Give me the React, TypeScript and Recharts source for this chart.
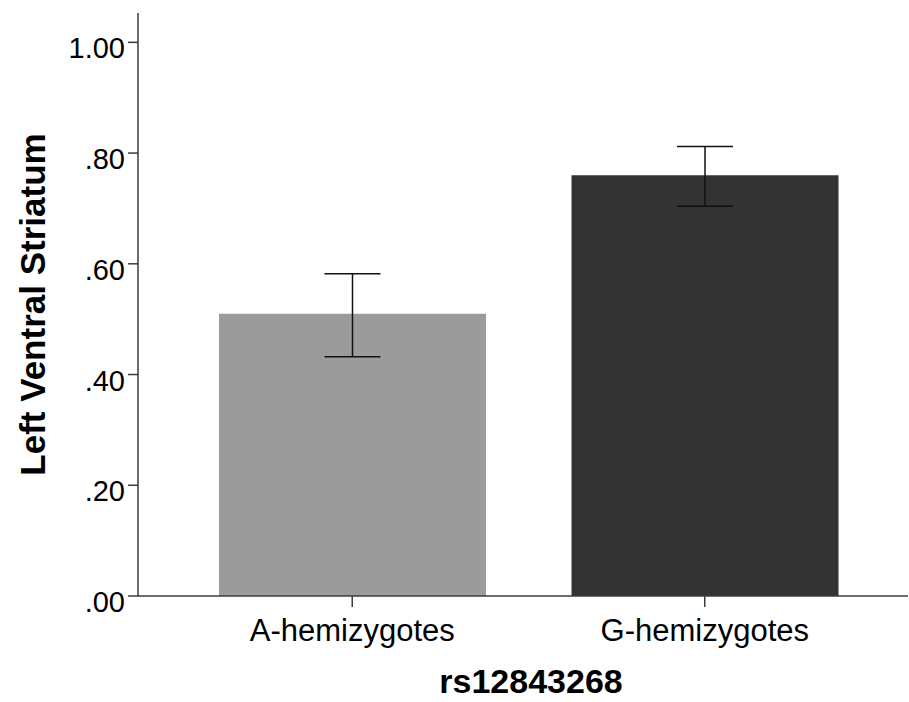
import { BarChart, Bar, XAxis, YAxis, ErrorBar, Cell, Label } from 'recharts'

const categories = ['A-hemizygotes', 'G-hemizygotes']
const means = [0.51, 0.76]
const errLow = [0.078, 0.056]
const errHigh = [0.072, 0.052]
const barColors = ['#9b9b9b', '#333333']
const yTicks = [0, 0.2, 0.4, 0.6, 0.8, 1.0]

const data = categories.map((c, i) => ({
  name: c,
  value: means[i],
  err: [errLow[i], errHigh[i]],
}))

const FONT = 'Arial, "Liberation Sans", sans-serif'

function fmt(v: number) {
  return v >= 1 ? v.toFixed(2) : v.toFixed(2).replace(/^0/, '')
}

function YTick({ x, y, payload }: any) {
  return (
    <text x={x - 1} y={y + 16} textAnchor="end" fontSize={29} fontFamily={FONT} fill="#000">
      {fmt(payload.value)}
    </text>
  )
}

function XTick({ x, payload }: any) {
  return (
    <text x={x} y={596 + 45} textAnchor="middle" fontSize={31} fontFamily={FONT} fill="#000">
      {payload.value}
    </text>
  )
}

function XTitle({ viewBox }: any) {
  return (
    <text
      x={viewBox.x + viewBox.width / 2 + 8}
      y={693}
      textAnchor="middle"
      fontSize={34}
      fontWeight="bold"
      fontFamily={FONT}
      fill="#000"
    >
      rs12843268
    </text>
  )
}

function YTitle({ viewBox }: any) {
  const cx = 45
  const cy = viewBox.y + viewBox.height / 2
  return (
    <text
      x={cx}
      y={cy}
      transform={`rotate(-90, ${cx}, ${cy})`}
      textAnchor="middle"
      fontSize={35}
      fontWeight="bold"
      fontFamily={FONT}
      fill="#000"
    >
      Left Ventral Striatum
    </text>
  )
}

export default function App() {
  return (
    <div style={{ position: 'absolute', left: 0, top: 0, background: '#fff' }}>
      <BarChart width={909} height={702} data={data} margin={{ top: 13, right: 1, left: 0, bottom: 0 }}>
        <XAxis
          dataKey="name"
          height={106}
          padding={{ left: 38, right: 27 }}
          tickSize={11}
          tick={<XTick />}
          axisLine={{ stroke: '#3c3c3c', strokeWidth: 1.5 }}
          tickLine={{ stroke: '#3c3c3c', strokeWidth: 1.5 }}
        >
          <Label content={<XTitle />} />
        </XAxis>
        <YAxis
          width={138}
          domain={[0, 1.053]}
          ticks={yTicks}
          tickSize={10}
          tick={<YTick />}
          allowDataOverflow
          axisLine={{ stroke: '#3c3c3c', strokeWidth: 1.5 }}
          tickLine={{ stroke: '#3c3c3c', strokeWidth: 1.5 }}
        >
          <Label content={<YTitle />} />
        </YAxis>
        <Bar dataKey="value" barSize={267} isAnimationActive={false}>
          {data.map((d, i) => (
            <Cell key={d.name} fill={barColors[i]} />
          ))}
          <ErrorBar dataKey="err" width={28} stroke="#111" strokeWidth={1.5} isAnimationActive={false} />
        </Bar>
      </BarChart>
    </div>
  )
}
